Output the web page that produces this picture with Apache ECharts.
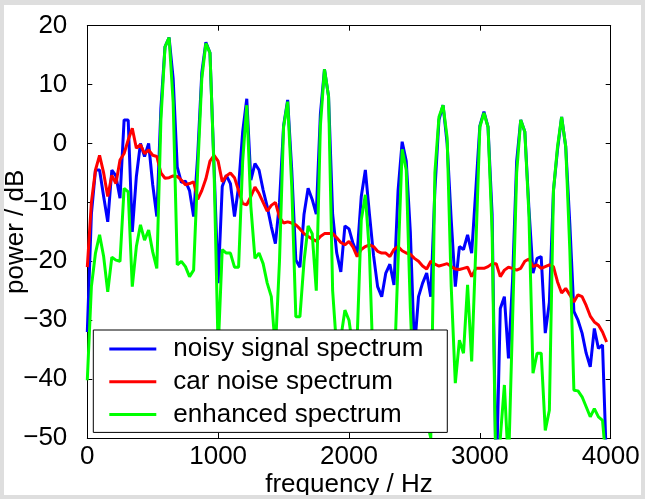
<!DOCTYPE html>
<html>
<head>
<meta charset="utf-8">
<script src="https://cdn.jsdelivr.net/npm/echarts/dist/echarts.min.js"></script>
<style>
  html, body { margin: 0; padding: 0; background: #dedede; width: 645px; height: 499px; overflow: hidden; }
  #c { position: absolute; left: 4px; top: 5px; width: 637px; height: 490px; background: #ffffff; }
</style>
</head>
<body>
<div id="c"></div>
<script>
// FFT bin spacing (Hz) and axis settings
const binHz = 31.25;
const xTicks = [0, 1000, 2000, 3000, 4000];
const yTicks = [-50, -40, -30, -20, -10, 0, 10, 20];
const seriesNames = ['noisy signal spectrum', 'car noise spectrum', 'enhanced spectrum'];

// power in dB per bin (bin k -> k*31.25 Hz)
const noisy = [
  -32, -12, -4.5, -4.5, -9, -13.3, -4.5, -5.5, -9.3, 4,
  4, -15, -5.6, 0, -2.2, 0, -7, -12.4, 6, 16.4,
  18, 11, -4, -6.6, -6.4, -8, -12.4, -2, 12, 17.2,
  15.4, -4, -23.7, -7.3, -5.4, -6.8, -12.4, -7.3, 2, 7.6,
  -6.2, -3.4, -4.5, -7.9, -10.7, -14.1, -17, -10, 3, 7.4,
  -4.5, -19.8, -21, -12, -7.6, -9.5, -12, 5, 12.6, 8,
  -12, -18.6, -21.8, -14, -14.5, -17, -18.6, -9, -4.5, -12,
  -19, -24.3, -26, -22, -20.5, -24, -8, 0.3, -3, -15,
  -35, -26, -23.7, -22, -26, -8, 4, 6.5, 0, -13,
  -24.3, -17.5, -18, -15.5, -18.6, -8, 3, 5.4, 2.8, -12,
  -58, -28, -26, -36.5, -23.2, -3, 4, 2, -11, -22,
  -19.5, -19.2, -32.2, -27, -8, -1, 4.5, -0.5, -13.6, -28.5,
  -30, -32.2, -35.6, -37.9, -31.4, -34.8, -34.2, -55
];
const carNoise = [
  -21, -10, -4.5, -2, -5, -9, -5.4, -6.8, -2.8, -1.7,
  0.6, 2.6, -0.8, -0.2, -1.7, -1.1, -2, -2.2, -5, -5.9,
  -5.8, -5.5, -5.6, -6.2, -7, -6.8, -6.5, -9.5, -8, -6,
  -3, -2, -3, -6.5, -5.5, -5, -5.8, -8, -10.2, -10.4,
  -9, -7.4, -8.5, -10, -11.5, -10.5, -10, -12.5, -13.5, -13.3,
  -13.5, -13.8, -14.5, -15.3, -15.8, -16.2, -16.6, -15.8, -15.3, -15.3,
  -15.3, -16, -16.8, -17.2, -16.6, -17.6, -19.2, -18, -17.5, -17.2,
  -17.5, -18.3, -18.6, -18.6, -19.2, -18, -17.5, -18.2, -18.6, -18.8,
  -19.5, -20, -20.8, -21.3, -20, -20.5, -20.8, -20.6, -20.4, -20.9,
  -21.3, -21.4, -21.2, -21, -22.6, -21.2, -21.2, -21.2, -20.9, -20.4,
  -20.4, -22.6, -21.5, -21, -21.2, -21.5, -21.2, -20, -19.6, -20.9,
  -20.6, -21.2, -20.9, -20.6, -20.9, -23.5, -25.4, -24.6, -25.7, -26.9,
  -25.7, -26, -27.5, -29.3, -30.3, -30.8, -32, -33.7
];
const enhanced = [
  -40.2, -24.3, -18.6, -15.5, -19.2, -25.2, -19.3, -19.8, -20, -7.6,
  -8.2, -24.3, -17.5, -13.8, -16.4, -14.7, -18.4, -21.2, 4, 16.4,
  18, 7, -20.6, -20, -20.9, -22.6, -21.5, -4.5, 11, 17,
  15.4, -4.5, -35, -18, -18.6, -18.6, -21, -21, -3, 6.5,
  -10.7, -19.5, -18.6, -20.4, -23.7, -26, -35, -20, 2.8, 7.1,
  -7.3, -29.4, -29.4, -20, -14, -15.3, -25, 3, 12.6, 8,
  -25, -35, -33, -28.3, -30, -35, -33, -13, -8.7, -18.6,
  -40, -42, -45, -40, -38, -40, -20, -1, -4.5, -28,
  -45, -48, -45, -47, -50, -5, 4.5, 6.5, 1, -24.3,
  -40.7, -33.4, -35.6, -24, -37, -18, 2.8, 5.2, 2.8, -15,
  -60, -50, -41, -55, -30, -5, 4, 2, -12, -39,
  -35.6, -35.6, -48.7, -45.3, -8, -0.5, 4.5, -0.5, -18, -41.9,
  -42, -43, -44.7, -46.4, -45, -46.4, -47, -55
];

const toPairs = arr => arr.map((v, i) => [i * binHz, v]);
const FONT = "'Liberation Sans', Arial, Helvetica, sans-serif";
const FS = 26;
const minus = v => String(v).replace('-', '\u2212');

const chart = echarts.init(document.getElementById('c'), null, { renderer: 'canvas' });

const axisLineStyle = { show: true, onZero: false, lineStyle: { color: '#000', width: 1 } };
const tickStyle = { show: true, inside: true, length: 5, lineStyle: { color: '#000', width: 1 } };

chart.setOption({
  animation: false,
  backgroundColor: '#ffffff',
  textStyle: { fontFamily: FONT },
  grid: { left: 83.3, top: 20.7, right: 30.3, bottom: 57, containLabel: false, outerBoundsMode: 'none' },
  legend: {
    data: seriesNames,
    orient: 'vertical',
    left: 89.3,
    top: 325,
    backgroundColor: '#ffffff',
    borderColor: '#000',
    borderWidth: 1,
    borderRadius: 0,
    padding: [6, 24, 5, 16],
    itemGap: 6.7,
    itemWidth: 47,
    itemHeight: 3,
    icon: 'rect',
    textStyle: { fontFamily: FONT, fontSize: FS, color: '#000', padding: [0, 0, 0, 12], lineHeight: 26 }
  },
  xAxis: [
    {
      type: 'value', min: 0, max: 4000, interval: 1000, position: 'bottom',
      name: 'frequency / Hz', nameLocation: 'middle', nameGap: 34, nameMoveOverlap: false,
      nameTextStyle: { fontFamily: FONT, fontSize: FS, color: '#000' },
      axisLine: axisLineStyle, axisTick: tickStyle, splitLine: { show: false },
      axisLabel: { fontFamily: FONT, fontSize: FS, color: '#000', margin: 6, formatter: v => xTicks.includes(v) ? minus(v) : '' }
    },
    {
      type: 'value', min: 0, max: 4000, interval: 1000, position: 'top',
      axisLine: axisLineStyle, axisTick: tickStyle, splitLine: { show: false },
      axisLabel: { show: false }
    }
  ],
  yAxis: [
    {
      type: 'value', min: -50, max: 20, interval: 10, position: 'left',
      name: 'power / dB', nameLocation: 'middle', nameGap: 58, nameMoveOverlap: false,
      nameTextStyle: { fontFamily: FONT, fontSize: FS, color: '#000' },
      axisLine: axisLineStyle, axisTick: tickStyle, splitLine: { show: false },
      axisLabel: { fontFamily: FONT, fontSize: FS, color: '#000', margin: 20, formatter: v => yTicks.includes(v) ? minus(v) : '' }
    },
    {
      type: 'value', min: -50, max: 20, interval: 10, position: 'right',
      axisLine: axisLineStyle, axisTick: tickStyle, splitLine: { show: false },
      axisLabel: { show: false }
    }
  ],
  series: [
    { name: seriesNames[0], type: 'line', data: toPairs(noisy), showSymbol: false, symbol: 'none', clip: true,
      lineStyle: { color: '#0000ff', width: 3 }, itemStyle: { color: '#0000ff' } },
    { name: seriesNames[1], type: 'line', data: toPairs(carNoise), showSymbol: false, symbol: 'none', clip: true,
      lineStyle: { color: '#ff0000', width: 3 }, itemStyle: { color: '#ff0000' } },
    { name: seriesNames[2], type: 'line', data: toPairs(enhanced), showSymbol: false, symbol: 'none', clip: true,
      lineStyle: { color: '#00ff00', width: 3 }, itemStyle: { color: '#00ff00' } }
  ]
});
</script>
</body>
</html>
